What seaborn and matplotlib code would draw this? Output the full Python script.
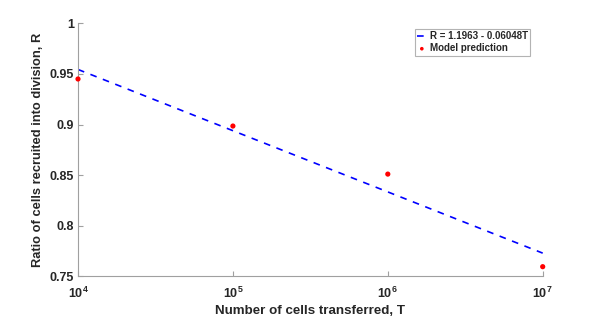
import matplotlib
matplotlib.use("Agg")
import matplotlib.pyplot as plt
import seaborn as sns
import pandas as pd
from matplotlib.ticker import FixedLocator, NullLocator

# Data
cells_T = [1e4, 1e5, 1e6, 1e7]
model_R = [0.945, 0.8985, 0.851, 0.7595]
fit_R = [0.9544, 0.8939, 0.8334, 0.7729]
fit_label = "R = 1.1963 - 0.06048T"
pred_label = "Model prediction"
y_ticks = [0.75, 0.8, 0.85, 0.9, 0.95, 1.0]
y_tick_labels = ["0.75", "0.8", "0.85", "0.9", "0.95", "1"]
x_ticks = [1e4, 1e5, 1e6, 1e7]
x_tick_labels = [r"$\mathbf{10^{4}}$", r"$\mathbf{10^{5}}$", r"$\mathbf{10^{6}}$", r"$\mathbf{10^{7}}$"]

sns.set_style("white")
plt.rcParams["font.family"] = ["Liberation Sans", "DejaVu Sans"]
plt.rcParams["mathtext.fontset"] = "custom"
plt.rcParams["mathtext.rm"] = "Liberation Sans"
plt.rcParams["mathtext.bf"] = "Liberation Sans:bold"

df_fit = pd.DataFrame({"T": cells_T, "R": fit_R})
df_pts = pd.DataFrame({"T": cells_T, "R": model_R})

fig = plt.figure(figsize=(6.0, 3.17), dpi=100)
ax = fig.add_axes([0.13, 0.1284, 0.7745, 0.798])

sns.lineplot(data=df_fit, x="T", y="R", ax=ax, color=(0, 0, 1), linestyle=(0, (4, 4)),
             linewidth=1.2, label=fit_label)
sns.scatterplot(data=df_pts, x="T", y="R", ax=ax, color="red", s=14, edgecolor="none",
                label=pred_label, zorder=5, clip_on=False)

ax.set_xscale("log")
ax.set_xlim(1e4, 1e7)
ax.set_ylim(0.75, 1.0)
ax.xaxis.set_major_locator(FixedLocator(x_ticks))
ax.xaxis.set_minor_locator(NullLocator())
ax.set_xticklabels(x_tick_labels)
ax.set_yticks(y_ticks)
ax.set_yticklabels(y_tick_labels)

gray = "#a0a0a0"
for s in ["top", "right"]:
    ax.spines[s].set_visible(False)
for s in ["left", "bottom"]:
    ax.spines[s].set_color(gray)
    ax.spines[s].set_linewidth(0.8)
ax.tick_params(axis="both", direction="in", length=3.5, width=0.8, color=gray,
               labelsize=9, labelcolor="#262626", left=True, bottom=True)
ax.tick_params(axis="x", pad=7)
ax.tick_params(axis="y", pad=3)
for lbl in ax.get_yticklabels():
    lbl.set_fontweight("bold")

ax.set_xlabel("Number of cells transferred, T", fontsize=9.6, fontweight="bold", color="#262626", labelpad=3)
ax.set_ylabel("Ratio of cells recruited into division, R", fontsize=9.3, fontweight="bold", color="#262626", labelpad=4)

leg = ax.legend(loc="upper right", bbox_to_anchor=(0.973, 0.978),
                prop={"weight": "bold", "size": 7}, frameon=True, fancybox=False,
                handlelength=1.0, handletextpad=0.3, borderpad=0.25, labelspacing=0.2,
                borderaxespad=0.0, markerscale=0.7)
leg.get_frame().set_edgecolor(gray)
leg.get_frame().set_linewidth(0.8)

fig.savefig("out.png", dpi=100)
